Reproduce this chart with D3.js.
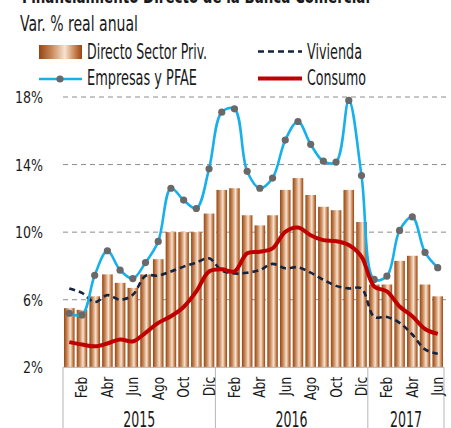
<!DOCTYPE html>
<meta charset="utf-8">
<style>
  body { margin: 0; background: #fff; }
  svg { display: block; }
  text { font-family: "Liberation Sans Narrow", "DejaVu Sans Condensed", "Roboto", sans-serif; fill: #1a1a1a; }
</style>
<svg width="451" height="428"></svg>
<script src="https://cdn.jsdelivr.net/npm/d3@7/dist/d3.min.js"></script>
<script>

// meses ene-2015 .. jun-2017
const months = ["Ene","Feb","Mar","Abr","May","Jun","Jul","Ago","Sep","Oct","Nov","Dic",
                "Ene","Feb","Mar","Abr","May","Jun","Jul","Ago","Sep","Oct","Nov","Dic",
                "Ene","Feb","Mar","Abr","May","Jun"]
const years = ["2015","2016","2017"]
const yearLen = [12, 12, 6]
const yTicks = [2, 6, 10, 14, 18]

const directo  = [5.5,5.4,6.2,7.5,7.0,6.7,7.5,8.4,10.0,10.0,10.0,11.1,
                  12.5,12.6,11.0,10.4,11.0,12.5,13.2,12.2,11.5,11.3,12.5,10.6,
                  6.9,6.9,8.3,8.6,6.9,6.2]
const vivienda = [6.67,6.4,5.86,6.27,6.0,6.29,7.41,7.43,7.67,7.96,8.2,8.45,
                  7.73,7.55,7.6,7.76,8.12,7.86,7.92,7.6,7.18,6.82,6.67,6.67,
                  4.98,4.98,4.63,3.94,3.06,2.8]
const empresas = [5.2,5.1,7.45,8.9,7.75,7.25,8.2,9.45,12.6,11.9,11.4,13.75,
                  17.1,17.3,13.6,12.6,13.2,15.45,16.55,15.2,14.2,14.15,17.8,13.35,
                  7.2,7.4,10.1,10.9,8.8,7.9]
const consumo  = [3.49,3.35,3.24,3.41,3.65,3.53,4.04,4.63,5.02,5.57,6.49,7.67,
                  7.8,7.67,8.75,8.84,9.04,10.02,10.27,9.82,9.53,9.47,9.24,8.55,
                  6.78,6.49,5.6,5.02,4.27,3.98]

const blue = "#17b0ea", navy = "#14233f", red = "#c00000"

const svg = d3.select("svg")

const x = d3.scaleBand()
    .domain(d3.range(months.length))
    .range([63, 444])
    .paddingInner(0.17)
    .paddingOuter(0.08)

const y = d3.scaleLinear()
    .domain([2, 18])
    .range([367.3, 97])

const cx = i => x(i) + x.bandwidth() / 2

// gradiente cobre para las barras
const defs = svg.append("defs")
const grad = defs.append("linearGradient").attr("id", "copper")
  .attr("x1", "0%").attr("x2", "100%").attr("y1", "0%").attr("y2", "0%")
;[[0, "#974510"], [0.3, "#c98a5c"], [0.6, "#f8e3d0"], [0.85, "#c27c4a"], [1, "#974510"]]
  .forEach(([o, c]) => grad.append("stop").attr("offset", o).attr("stop-color", c))

// titulo (cortado arriba)
svg.append("text")
    .attr("x", 22).attr("y", 2.5)
    .attr("font-size", 20).attr("font-weight", "bold")
    .attr("textLength", 348).attr("lengthAdjust", "spacingAndGlyphs")
    .text("Financiamiento Directo de la Banca Comercial")

svg.append("text")
    .attr("x", 20).attr("y", 30.5)
    .attr("font-size", 21)
    .attr("textLength", 118).attr("lengthAdjust", "spacingAndGlyphs")
    .text("Var. % real anual")

// grid
svg.append("g")
  .selectAll("line")
  .data(yTicks.slice(1))
  .join("line")
    .attr("x1", 63).attr("x2", 447)
    .attr("y1", d => y(d)).attr("y2", d => y(d))
    .attr("stroke", "#8c8c8c")
    .attr("stroke-dasharray", "5,4")

// eje y
svg.append("g")
  .selectAll("text")
  .data(yTicks)
  .join("text")
    .attr("transform", d => `translate(43,${y(d)}) scale(0.85,1)`)
    .attr("dy", "0.36em")
    .attr("text-anchor", "end")
    .attr("font-size", 16.5)
    .text(d => d + "%")

// barras
svg.append("g")
  .selectAll("rect")
  .data(directo)
  .join("rect")
    .attr("x", (d, i) => x(i))
    .attr("width", x.bandwidth())
    .attr("y", d => y(d))
    .attr("height", d => y(2) - y(d))
    .attr("fill", "url(#copper)")

// eje x
svg.append("line")
    .attr("x1", 63).attr("x2", 444)
    .attr("y1", y(2)).attr("y2", y(2))
    .attr("stroke", "#b5b5b5")

let start = 0
const bounds = [0]
yearLen.forEach(n => { start += n; bounds.push(start) })
const edge = i => i === 0 ? 63 : i === months.length ? 444 : x(i) - x.step() * x.paddingInner() / 2

svg.append("g")
  .selectAll("line")
  .data(bounds)
  .join("line")
    .attr("x1", d => edge(d)).attr("x2", d => edge(d))
    .attr("y1", y(2)).attr("y2", 428)
    .attr("stroke", "#b5b5b5")

svg.append("g")
  .selectAll("text")
  .data(months.map((m, i) => ({m, i})).filter(d => d.i % 2 === 1))
  .join("text")
    .attr("transform", d => `translate(${cx(d.i) + 5.5},${y(2) + 9.5}) rotate(-90) scale(0.82,1)`)
    .attr("text-anchor", "end")
    .attr("font-size", 16.5)
    .text(d => d.m)

svg.append("g")
  .selectAll("text")
  .data(years)
  .join("text")
    .attr("x", (d, k) => (edge(bounds[k]) + edge(bounds[k + 1])) / 2 - 16)
    .attr("y", 426.5)
    .attr("font-size", 21.5)
    .attr("textLength", 32).attr("lengthAdjust", "spacingAndGlyphs")
    .text(d => d)

// lineas
const line = d3.line()
    .x((d, i) => cx(i))
    .y(d => y(d))
    .curve(d3.curveCatmullRom.alpha(0.5))

svg.append("path")
    .attr("d", line(vivienda))
    .attr("fill", "none")
    .attr("stroke", navy)
    .attr("stroke-width", 2.6)
    .attr("stroke-dasharray", "6,4")

svg.append("path")
    .attr("d", line(empresas))
    .attr("fill", "none")
    .attr("stroke", blue)
    .attr("stroke-width", 2.6)

svg.append("g")
  .selectAll("circle")
  .data(empresas)
  .join("circle")
    .attr("cx", (d, i) => cx(i))
    .attr("cy", d => y(d))
    .attr("r", 3.6)
    .attr("fill", "#696969")

svg.append("path")
    .attr("d", line(consumo))
    .attr("fill", "none")
    .attr("stroke", red)
    .attr("stroke-width", 4)

// leyenda
const leg = svg.append("g")
leg.append("rect").attr("x", 39).attr("y", 45).attr("width", 43).attr("height", 14).attr("fill", "url(#copper)")
leg.append("line").attr("x1", 258).attr("x2", 302).attr("y1", 51.5).attr("y2", 51.5)
    .attr("stroke", navy).attr("stroke-width", 2.6).attr("stroke-dasharray", "6,4")
leg.append("line").attr("x1", 39).attr("x2", 82).attr("y1", 79).attr("y2", 79)
    .attr("stroke", blue).attr("stroke-width", 2.6)
leg.append("circle").attr("cx", 60).attr("cy", 79).attr("r", 3.6).attr("fill", "#696969")
leg.append("line").attr("x1", 258).attr("x2", 302).attr("y1", 78.5).attr("y2", 78.5)
    .attr("stroke", red).attr("stroke-width", 4)

const legText = [
  {t: "Directo Sector Priv.", x: 87, y: 59, w: 120},
  {t: "Vivienda", x: 307, y: 59, w: 55},
  {t: "Empresas y PFAE", x: 87, y: 85, w: 110},
  {t: "Consumo", x: 307, y: 85, w: 59}
]
leg.selectAll("text")
  .data(legText)
  .join("text")
    .attr("x", d => d.x).attr("y", d => d.y)
    .attr("font-size", 21)
    .attr("textLength", d => d.w).attr("lengthAdjust", "spacingAndGlyphs")
    .text(d => d.t)

</script>
